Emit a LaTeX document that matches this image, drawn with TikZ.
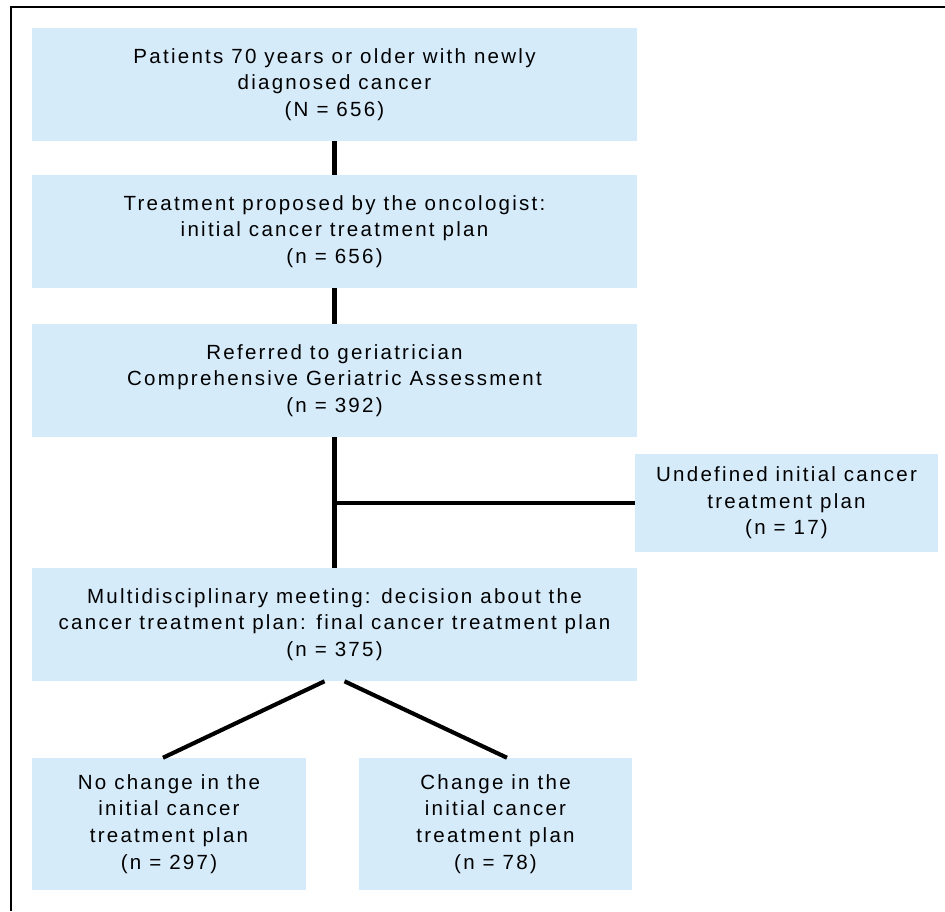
\documentclass[tikz,border=0pt]{standalone}
\usepackage{fontspec}
\setmainfont{Liberation Sans}[LetterSpace=11]
\definecolor{boxblue}{RGB}{214,235,250}
\begin{document}
\begin{tikzpicture}[x=0.75pt,y=-0.75pt,
  flowbox/.style={fill=boxblue,draw=none,align=center,inner sep=0pt,
    font=\fontsize{15.4pt}{20pt}\selectfont,
    execute at begin node={\rule{0pt}{17.3pt}}},
  link/.style={line width=3.1pt,draw=black}]
\useasboundingbox (0,0) rectangle (945,911);
\fill[white] (0,0) rectangle (945,911);
% frame (left and top only)
\draw[line width=2.2pt] (11,911) -- (11,7) -- (945,7);
% boxes
\node[flowbox,minimum width=605*0.75pt,minimum height=113*0.75pt] (b1) at (334.5,84.5)
  {Patients 70 years or older with newly\\diagnosed cancer\\(N = 656)};
\node[flowbox,minimum width=605*0.75pt,minimum height=113*0.75pt] (b2) at (334.5,231.5)
  {Treatment proposed by the oncologist:\\initial cancer treatment plan\\(n = 656)};
\node[flowbox,minimum width=605*0.75pt,minimum height=113*0.75pt] (b3) at (334.5,380.5)
  {Referred to geriatrician\\Comprehensive Geriatric Assessment\\(n = 392)};
\node[flowbox,minimum width=303*0.75pt,minimum height=98*0.75pt] (u) at (786.5,503)
  {Undefined initial cancer\\treatment plan\\(n = 17)};
\node[flowbox,minimum width=605*0.75pt,minimum height=113*0.75pt] (b4) at (334.5,624.5)
  {Multidisciplinary meeting: decision about the\\cancer treatment plan: final cancer treatment plan\\(n = 375)};
\node[flowbox,minimum width=274*0.75pt,minimum height=132*0.75pt] (b5) at (169,824)
  {No change in the\\initial cancer\\treatment plan\\(n = 297)};
\node[flowbox,minimum width=273*0.75pt,minimum height=132*0.75pt] (b6) at (495.5,824)
  {Change in the\\initial cancer\\treatment plan\\(n = 78)};
% connectors
\draw[link] (b1.south) -- (b2.north);
\draw[link] (b2.south) -- (b3.north);
\draw[link] (b3.south) -- (b4.north);
\draw[link] (b3.south |- u.west) -- (u.west);
\coordinate (l1) at ([xshift=-7.5pt]b4.south);
\coordinate (r1) at ([xshift=7.5pt]b4.south);
\draw[link] (l1) -- ([xshift=-4.5pt]b5.north);
\draw[link] (r1) -- ([xshift=8.6pt]b6.north);
\end{tikzpicture}
\end{document}
